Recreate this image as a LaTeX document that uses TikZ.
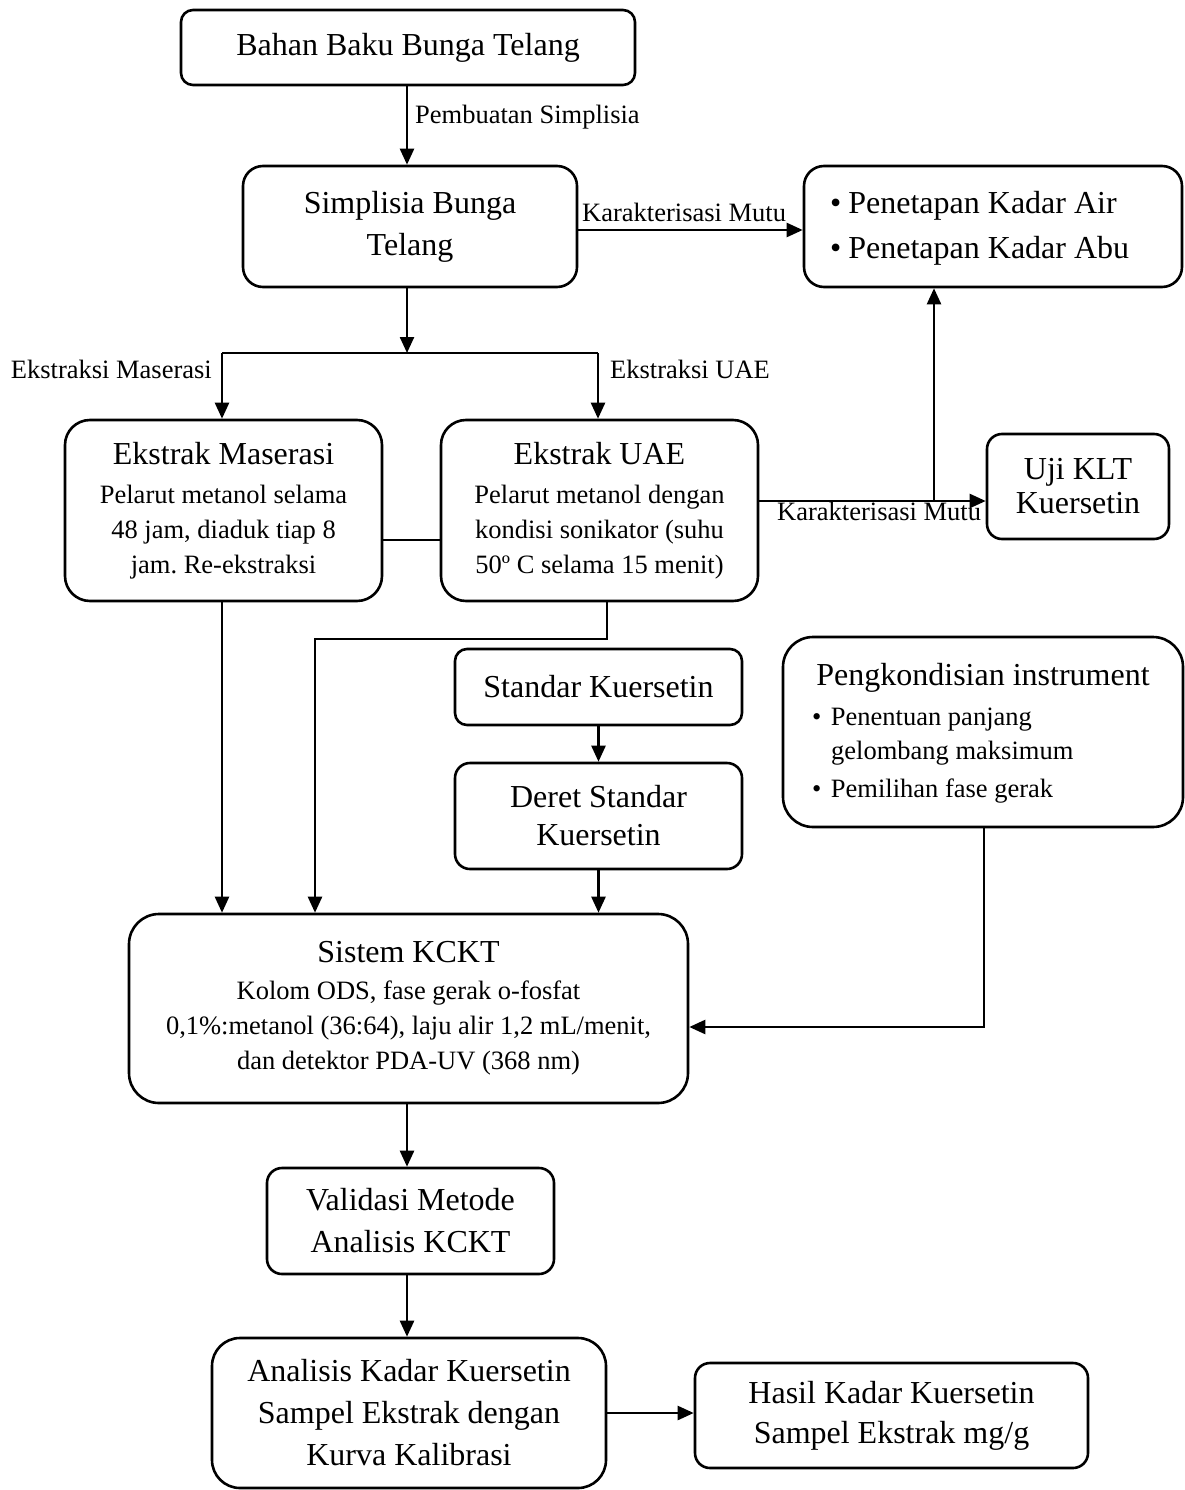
\documentclass[tikz,border=0pt]{standalone}
\usepackage{fontspec}
\setmainfont{Liberation Serif}
\usetikzlibrary{arrows.meta}
\frenchspacing
\newcommand{\fbig}{\fontsize{32}{42}\selectfont}
\newcommand{\fsmall}{\fontsize{26.5}{35}\selectfont}
\newcommand{\mybox}[8][]{\node[box,rounded corners=#7pt,minimum width={(#5-#3)*1pt},minimum height={(#6-#4)*1pt},#1] (#2) at ({(#3+#5)/2},{(#4+#6)/2}) {#8};}
\tikzset{
 box/.style={draw,line width=2.6pt,inner sep=0pt,align=center,font=\fbig},
 txt/.style={inner sep=0pt,font=\fsmall},
 arr/.style={line width=2.4pt,-{Triangle[length=16pt,width=14pt]}},
 ln/.style={line width=2.4pt},
}
\begin{document}
\begin{tikzpicture}[x=1pt,y=-1pt]
\path[use as bounding box, fill=white] (0,0) rectangle (1185,1490);

% boxes
\mybox{b1}{181}{10}{635}{85}{12}{Bahan Baku Bunga Telang}
\mybox{b2}{243}{166}{577}{287}{20}{Simplisia Bunga\\Telang}
\mybox{b3}{804}{166}{1182}{287}{20}{}
\node[txt,font=\fbig,anchor=base west] (b3a) at (830,213) {\textbullet\hspace{7pt}Penetapan Kadar Air};
\node[txt,font=\fbig,anchor=base west] (b3b) at (830,258) {\textbullet\hspace{7pt}Penetapan Kadar Abu};
\mybox[font=\fsmall]{b4}{65}{420}{382}{601}{25}{{\fbig Ekstrak Maserasi}\\[4pt]Pelarut metanol selama\\48 jam, diaduk tiap 8\\jam. Re-ekstraksi}
\mybox[font=\fsmall]{b5}{441}{420}{758}{601}{25}{{\fbig Ekstrak UAE}\\[4pt]Pelarut metanol dengan\\kondisi sonikator (suhu\\50º C selama 15 menit)}
\mybox{b6}{987}{434}{1169}{539}{15}{Uji KLT\\[-8pt]Kuersetin}
\mybox{b7}{455}{649}{742}{725}{12}{Standar Kuersetin}
\mybox{b8}{455}{763}{742}{869}{15}{Deret Standar\\[-4pt]Kuersetin}
\mybox{b9}{783}{637}{1183}{827}{30}{}
\node[txt,font=\fbig,anchor=base] (b9t) at (983,685) {Pengkondisian instrument};
\node[txt,anchor=base west] (b9a) at (812,725) {\textbullet\hspace{9.5pt}Penentuan panjang};
\node[txt,anchor=base west] (b9b) at (831,759) {gelombang maksimum};
\node[txt,anchor=base west] (b9c) at (812,797) {\textbullet\hspace{9.5pt}Pemilihan fase gerak};
\mybox[font=\fsmall]{b10}{129}{914}{688}{1103}{30}{{\fbig Sistem KCKT}\\[2pt]Kolom ODS, fase gerak o-fosfat\\0,1\%:metanol (36:64), laju alir 1,2 mL/menit,\\dan detektor PDA-UV (368 nm)}
\mybox{b11}{267}{1168}{554}{1274}{15}{Validasi Metode\\Analisis KCKT}
\mybox{b12}{212}{1338}{606}{1488}{28}{Analisis Kadar Kuersetin\\Sampel Ekstrak dengan\\Kurva Kalibrasi}
\mybox{b13}{695}{1363}{1088}{1468}{15}{Hasil Kadar Kuersetin\\[-2pt]Sampel Ekstrak mg/g}

% coordinates
\coordinate (c1) at (407,0);
\coordinate (jM) at (407,353);
\coordinate (jL) at (222,353);
\coordinate (jR) at (598,353);
\coordinate (jU) at (934,501);
\coordinate (k1) at (607,639);
\coordinate (k2) at (315,639);
\coordinate (k3) at (984,1027);
\coordinate (m1) at (0,540);
\coordinate (m2) at (0,1413);

% connectors
\draw[arr] (c1 |- b1.south) -- (c1 |- b2.north);
\draw[arr] ([yshift=-3.5pt]b2.east) -- ([yshift=-3.5pt]b3.west);
\draw[arr] (c1 |- b2.south) -- (jM);
\draw[ln] (jL) -- (jR);
\draw[arr] (jL) -- (jL |- b4.north);
\draw[arr] (jR) -- (jR |- b5.north);
\draw[ln] (b4.east |- m1) -- (b5.west |- m1);
\draw[arr] (b5.east |- jU) -- (b6.west |- jU);
\draw[arr] (jU) -- (jU |- b3.south);
\draw[arr] (jL |- b4.south) -- (jL |- b10.north);
\draw[arr] (k1 |- b5.south) -- (k1) -- (k2) -- (k2 |- b10.north);
\draw[arr] (b7.south) -- (b8.north);
\draw[arr] (b8.south) -- (b8.south |- b10.north);
\draw[arr] (k3 |- b9.south) -- (k3) -- (b10.east |- k3);
\draw[arr] (c1 |- b10.south) -- (c1 |- b11.north);
\draw[arr] (c1 |- b11.south) -- (c1 |- b12.north);
\draw[arr] (b12.east |- m2) -- (b13.west |- m2);

% labels
\node[txt,anchor=base west] (l1) at (415,124) {Pembuatan Simplisia};
\node[txt,anchor=base west] (l2) at (582,222) {Karakterisasi Mutu};
\node[txt,anchor=base east] (l3) at (212,378) {Ekstraksi Maserasi};
\node[txt,anchor=base west] (l4) at (610,378) {Ekstraksi UAE};
\node[txt,anchor=base west] (l5) at (777,520) {Karakterisasi Mutu};
\end{tikzpicture}
\end{document}
